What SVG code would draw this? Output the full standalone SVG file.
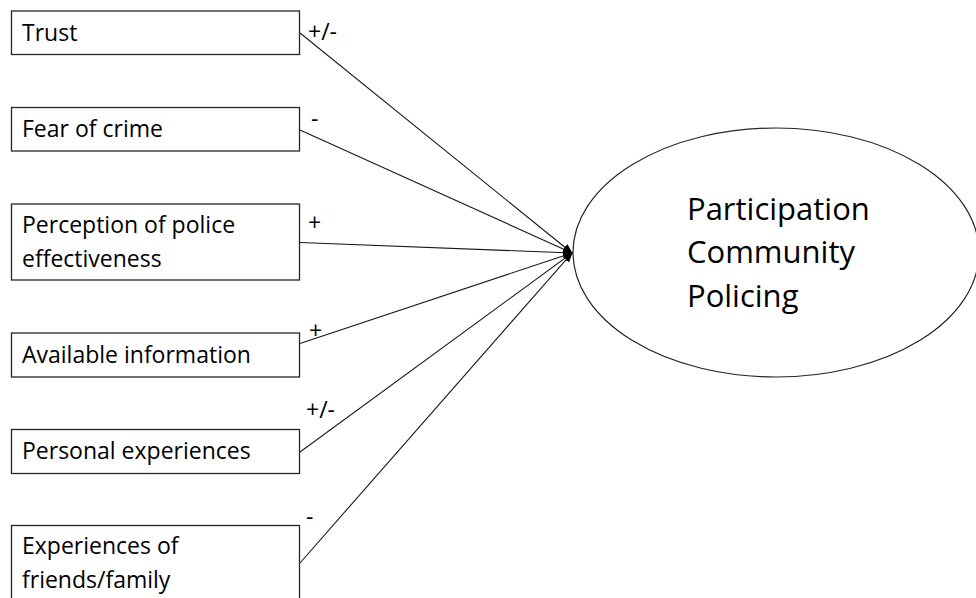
<svg xmlns="http://www.w3.org/2000/svg" width="976" height="598" viewBox="0 0 976 598">
<defs>
<style>
.box{fill:#fff;stroke:#262626;stroke-width:1.3}
.t{font-family:"Open Sans","Liberation Sans",sans-serif;font-size:23px;fill:#000}
.big{font-family:"Open Sans","Liberation Sans",sans-serif;font-size:31px;fill:#000}
.edge{stroke:#1a1a1a;stroke-width:1.1;fill:none;marker-end:url(#arr)}
</style>
<marker id="arr" markerUnits="userSpaceOnUse" markerWidth="10" markerHeight="8" refX="9" refY="4" orient="auto">
<path d="M0,0 L10,4 L0,8 Z" fill="#000"/>
</marker>
</defs>
<rect width="976" height="598" fill="#fff"/>
<g id="connectors">
<line class="edge" x1="300" y1="33" x2="572" y2="253"/>
<line class="edge" x1="300" y1="130" x2="572" y2="253"/>
<line class="edge" x1="300" y1="242.5" x2="572" y2="253"/>
<line class="edge" x1="300" y1="343.5" x2="572" y2="253"/>
<line class="edge" x1="300" y1="452" x2="572" y2="253"/>
<line class="edge" x1="300" y1="563" x2="572" y2="253"/>
<text class="t" x="308" y="40">+/-</text>
<text class="t" x="311" y="127">-</text>
<text class="t" x="308" y="231">+</text>
<text class="t" x="309" y="339">+</text>
<text class="t" x="306" y="418">+/-</text>
<text class="t" x="306" y="525">-</text>
</g>
<g id="trust">
<rect class="box" x="11.5" y="11" width="288" height="43.5"/>
<text class="t" x="22" y="41">Trust</text>
</g>
<g id="fear">
<rect class="box" x="11.5" y="107.5" width="288" height="43.5"/>
<text class="t" x="22" y="137">Fear of crime</text>
</g>
<g id="perception">
<rect class="box" x="11.5" y="204" width="288" height="76"/>
<text class="t" x="22" y="233">Perception of police</text>
<text class="t" x="22" y="266.5">effectiveness</text>
</g>
<g id="available">
<rect class="box" x="11.5" y="333" width="288" height="44"/>
<text class="t" x="22" y="363">Available information</text>
</g>
<g id="personal">
<rect class="box" x="11.5" y="429.5" width="288" height="44"/>
<text class="t" x="22" y="459">Personal experiences</text>
</g>
<g id="friends">
<rect class="box" x="11.5" y="525.5" width="288" height="80"/>
<text class="t" x="22" y="554">Experiences of</text>
<text class="t" x="22" y="587.5">friends/family</text>
</g>
<g id="participation">
<ellipse cx="776" cy="252.5" rx="203" ry="124.5" fill="#fff" stroke="#262626" stroke-width="1.2"/>
<text class="big" x="687" y="220">Participation</text>
<text class="big" x="687" y="263">Community</text>
<text class="big" x="687" y="307">Policing</text>
</g>
</svg>
